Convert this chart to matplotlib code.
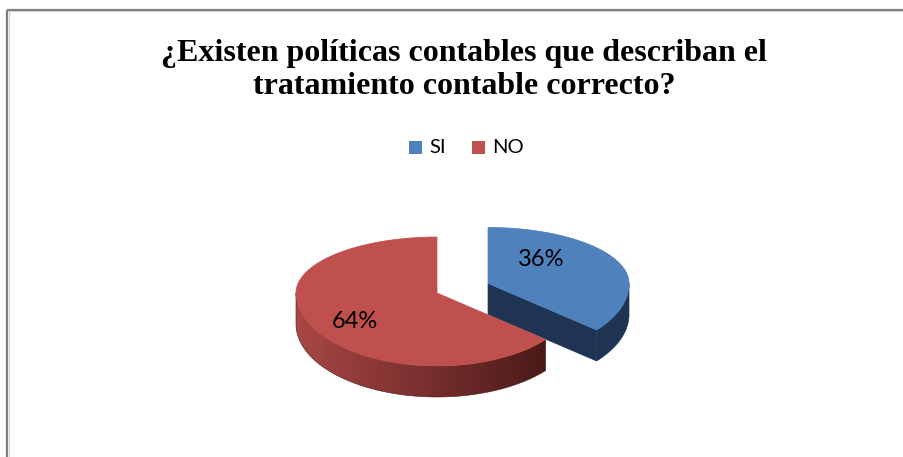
import numpy as np
import matplotlib
matplotlib.use("Agg")
import matplotlib.pyplot as plt
from matplotlib.patches import Polygon, Rectangle
from matplotlib.colors import LinearSegmentedColormap

# ---- data ----
title = "¿Existen políticas contables que describan el\ntratamiento contable correcto?"
categories = ["SI", "NO"]
values = [36, 64]
top_colors = ["#4F81BD", "#C0504D"]
explode = [0.40, 0.0]

# ---- layout (pixel space) ----
W, H = 904, 457
CX, CY = 437, 293          # centre of the unexploded pie top
RX, RY_BACK, RY_FRONT = 141, 56, 73
THICK = 31
LABEL_XY = [(541, 260), (355, 322)]

fig = plt.figure(figsize=(W / 100, H / 100), dpi=100)
ax = fig.add_axes([0, 0, 1, 1])
ax.set_xlim(0, W)
ax.set_ylim(H, 0)
ax.axis("off")

# chart border (only top and left visible)
ax.plot([7.5, W], [9.5, 9.5], color="#7f7f7f", lw=1.6, solid_capstyle="butt")
ax.plot([7.5, 7.5], [9.5, H], color="#7f7f7f", lw=1.6, solid_capstyle="butt")
ax.plot([9.5, W], [11.2, 11.2], color="#d0d0d0", lw=0.8)
ax.plot([9.2, 9.2], [11.2, H], color="#d0d0d0", lw=0.8)


def pt(cx, cy, th, dz=0.0):
    t = np.radians(th)
    c, s = np.cos(t), np.sin(t)
    ry = RY_BACK if c > 0 else RY_FRONT
    return (cx + RX * s, cy - ry * c + dz)


def arc(cx, cy, a0, a1, dz=0.0, n=150):
    return [pt(cx, cy, a, dz) for a in np.linspace(a0, a1, n)]


total = float(sum(values))
bounds = np.concatenate([[0], np.cumsum(values) / total * 360.0])

slices = []
for i, v in enumerate(values):
    a0, a1 = bounds[i], bounds[i + 1]
    mid = np.radians((a0 + a1) / 2)
    dx = explode[i] * RX * np.sin(mid)
    dy = -explode[i] * RY_BACK * np.cos(mid)
    slices.append((a0, a1, CX + dx, CY + dy))

side_cols = {"SI": ("#1F3452", "#1F3452"), "NO": ("#A94745", "#4A1A19")}

# draw order: NO (left, big) then SI
for i in [1, 0]:
    a0, a1, cx, cy = slices[i]
    cat = categories[i]
    cl, cr = side_cols[cat]
    if cat == "SI":
        p_rim = pt(cx, cy, a1)
        face = [(cx, cy), p_rim, (p_rim[0], p_rim[1] + THICK), (cx, cy + THICK)]
        ax.add_patch(Polygon(face, closed=True, fc=cl, ec=cl, lw=0.5))
    # visible outer side: front half (90..270)
    s0, s1 = max(a0, 90), min(a1, 270)
    if s1 > s0:
        upper = arc(cx, cy, s0, s1)
        lower = arc(cx, cy, s1, s0, dz=THICK)
        side = Polygon(upper + lower, closed=True, fc="none", ec="none")
        ax.add_patch(side)
        xs = [p[0] for p in upper]
        ys = [p[1] for p in upper] + [p[1] for p in lower]
        x0, x1 = min(xs), max(xs)
        y0, y1 = min(ys), max(ys)
        cmap = LinearSegmentedColormap.from_list("g", [cl, cr])
        grad = np.linspace(0, 1, 256)[None, :]
        im = ax.imshow(grad, cmap=cmap, extent=(x0, x1, y1, y0), aspect="auto",
                       interpolation="bilinear", zorder=side.get_zorder())
        im.set_clip_path(side)
        ax.add_patch(Polygon(upper + lower, closed=True, fc="none", ec=cr, lw=0.4))
    # top face
    top = [(cx, cy)] + arc(cx, cy, a0, a1)
    ax.add_patch(Polygon(top, closed=True, fc=top_colors[i], ec=top_colors[i],
                         lw=0.5, zorder=2))

ax.set_xlim(0, W)
ax.set_ylim(H, 0)

# percentage labels
for i, v in enumerate(values):
    x, y = LABEL_XY[i]
    ax.text(x, y, f"{v / total * 100:.0f}%", ha="center", va="center",
            fontsize=17, family="Lato", color="black", zorder=5)

# title
fig.text(464 / W, 1 - 70 / H, title, ha="center", va="center", fontsize=23,
         family="Liberation Serif", fontweight="bold", linespacing=1.22)

# legend
leg_sq = [409, 472]
for i, cat in enumerate(categories):
    ax.add_patch(Rectangle((leg_sq[i], 141), 13, 13, fc=top_colors[i], ec="none"))
    ax.text(leg_sq[i] + 20, 147.5, cat, ha="left", va="center", fontsize=14.5,
            family="Lato", color="black")

fig.savefig("out.png", dpi=100)
